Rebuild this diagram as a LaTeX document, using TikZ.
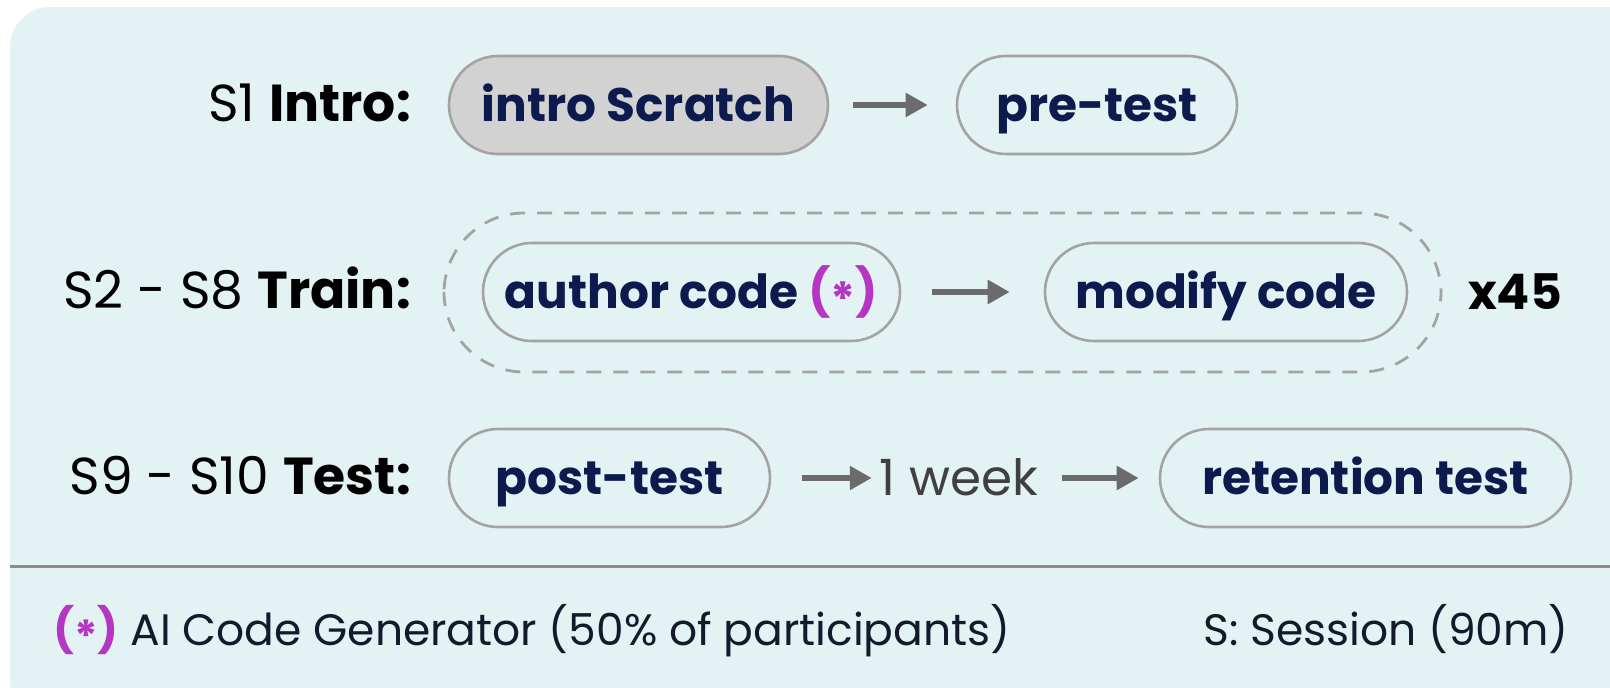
\documentclass[tikz,border=0pt]{standalone}
\usepackage{fontspec}
\setmainfont{Poppins}
\usetikzlibrary{arrows.meta}
\definecolor{bgc}{HTML}{E3F3F4}
\definecolor{bordc}{HTML}{A3A3A3}
\definecolor{navy}{HTML}{0D1A4E}
\definecolor{arrc}{HTML}{6B6B6B}
\definecolor{mag}{HTML}{B536C2}
\definecolor{grayfill}{HTML}{D2D2D2}
\definecolor{foot}{HTML}{141A2E}
\newcommand{\aistar}{\textcolor{mag}{\textbf{(\raisebox{-0.17em}{*})}}}
\tikzset{
  pill/.style={draw=bordc, line width=2.6pt, rounded corners=49pt, minimum height=98pt,
    inner sep=0pt, text height=33pt, text depth=0pt, text=navy,
    font=\fontsize{47}{50}\selectfont\bfseries, fill=bgc},
  rowlabel/.style={anchor=east, inner sep=0pt, text height=36pt, text depth=0pt,
    text=black, font=\fontsize{52}{56}\selectfont},
  flow/.style={draw=arrc, line width=6pt, -{Triangle[length=22pt,width=23pt]}},
  plain/.style={inner sep=0pt, text height=31pt, text depth=0pt, font=\fontsize{44}{48}\selectfont}
}
\begin{document}
\begin{tikzpicture}[x=1pt,y=-1pt]
\useasboundingbox (0,0) rectangle (1610,688);
\begin{scope}
\clip (0,0) rectangle (1610,688);
\fill[bgc, rounded corners=40pt] (10,7) rectangle (1650,720);
\end{scope}
% dashed group
\draw[bordc, line width=2.8pt, dash pattern=on 15pt off 12pt, rounded corners=80pt] (444,213) rectangle (1441,372);
% row 1
\node[rowlabel] (l1) at (411,103) {S1 \textbf{Intro:}};
\node[pill, fill=grayfill, minimum width=379pt] (intro) at (638.5,105) {intro Scratch};
\node[pill, minimum width=280pt] (pre) at (1097,105) {pre-test};
\draw[flow, shorten <=24pt, shorten >=28pt] (intro) -- (pre);
% row 2
\node[rowlabel] (l2) at (411,290) {S2 - S8 \textbf{Train:}};
\node[pill, minimum width=417pt] (author) at (691.5,292) {author code \aistar};
\node[pill, minimum width=362pt] (modify) at (1226,292) {modify code};
\draw[flow, shorten <=31pt, shorten >=34pt] (author) -- (modify);
\node[inner sep=0pt, text height=34pt, text depth=0pt, font=\fontsize{49}{52}\selectfont\bfseries] (rep) at (1515,292) {x45};
% row 3
\node[rowlabel] (l3) at (411,476) {S9 - S10 \textbf{Test:}};
\node[pill, minimum width=321pt] (post) at (609.5,478) {post-test};
\node[plain, text=black!75, text height=35pt, font=\fontsize{50}{54}\selectfont] (week) at (959,478) {1 week};
\node[pill, minimum width=411pt] (ret) at (1365.5,478) {retention test};
\draw[flow, shorten <=31pt, shorten >=8pt] (post) -- (week);
\draw[flow, shorten <=24pt, shorten >=20pt] (week) -- (ret);
% separator
\coordinate (sepL) at (10,566);
\coordinate (sepR) at (1610,566);
\draw[draw=black!45, line width=3pt] (sepL) -- (sepR);
% footer
\node[plain, anchor=west, text=foot] (note) at (53,630) {\aistar{} AI Code Generator (50\% of participants)};
\node[plain, anchor=east, text=foot] (sess) at (1569,630) {S: Session (90m)};
\end{tikzpicture}
\end{document}
